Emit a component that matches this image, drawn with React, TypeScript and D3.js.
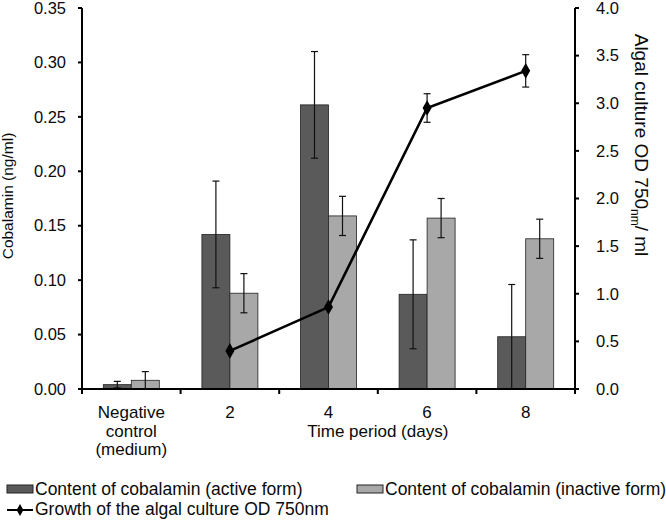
import React from "react";
import * as d3 from "d3";

const categories = ["neg", "2", "4", "6", "8"];
const activeForm = [0.004, 0.142, 0.261, 0.087, 0.048];
const activeErr = [0.003, 0.049, 0.049, 0.05, 0.048];
const inactiveForm = [0.008, 0.088, 0.159, 0.157, 0.138];
const inactiveErr = [0.008, 0.018, 0.018, 0.018, 0.018];
// algal growth is not measured for the negative control
const growthDays = ["2", "4", "6", "8"];
const growthOD = [0.4, 0.86, 2.95, 3.34];
const growthErr = [0, 0, 0.15, 0.17];
const leftTicks = [0, 0.05, 0.1, 0.15, 0.2, 0.25, 0.3, 0.35];
const rightTicks = [0, 0.5, 1, 1.5, 2, 2.5, 3, 3.5, 4];

const W = 666;
const H = 521;
const marginLeft = 82;
const marginRight = 91; // right axis at 575
const marginTop = 8;
const baseY = 389;
const font = "Arial, 'Liberation Sans', sans-serif";
const darkFill = "#5a5a5a";
const lightFill = "#a8a8a8";
const ink = "#0a0a0a";

export default function App() {
  const x = d3
    .scaleBand<string>()
    .domain(categories)
    .range([marginLeft, W - marginRight])
    .paddingInner(0);
  const yL = d3.scaleLinear().domain([0, 0.35]).range([baseY, marginTop]);
  const yR = d3.scaleLinear().domain([0, 4]).range([baseY, marginTop]);
  const barW = 28;
  const cx = (c: string) => (x(c) ?? 0) + x.bandwidth() / 2;

  const line = d3
    .line<number>()
    .x((_, i) => cx(growthDays[i]))
    .y((d) => yR(d));

  const diamond = d3.symbol(d3.symbolDiamond, 70)();

  const errBar = (px: number, top: number, bottom: number, key: string, sw = 1.2) => (
    <g key={key} stroke="#111" strokeWidth={sw}>
      <line x1={px} x2={px} y1={top} y2={bottom} />
      <line x1={px - 3.5} x2={px + 3.5} y1={top} y2={top} />
      <line x1={px - 3.5} x2={px + 3.5} y1={bottom} y2={bottom} />
    </g>
  );

  const boundaries = categories.map((c) => x(c) ?? 0).concat([W - marginRight]);

  return (
    <div style={{ position: "absolute", left: 0, top: 0 }}>
      <svg width={W} height={H} style={{ display: "block", background: "#fff" }} fontFamily={font}>
        {/* bars */}
        {categories.map((c, i) => (
          <g key={c}>
            <rect
              x={cx(c) - barW}
              y={yL(activeForm[i])}
              width={barW}
              height={baseY - yL(activeForm[i])}
              fill={darkFill}
              stroke="#222"
              strokeWidth={0.8}
            />
            <rect
              x={cx(c)}
              y={yL(inactiveForm[i])}
              width={barW}
              height={baseY - yL(inactiveForm[i])}
              fill={lightFill}
              stroke="#222"
              strokeWidth={0.8}
            />
          </g>
        ))}
        {categories.map((c, i) =>
          errBar(cx(c) - barW / 2, yL(activeForm[i] + activeErr[i]), yL(activeForm[i] - activeErr[i]), "ea" + c)
        )}
        {categories.map((c, i) =>
          errBar(cx(c) + barW / 2, yL(inactiveForm[i] + inactiveErr[i]), yL(inactiveForm[i] - inactiveErr[i]), "ei" + c)
        )}

        {/* growth line */}
        <path d={line(growthOD) ?? ""} fill="none" stroke="#000" strokeWidth={2.6} />
        {growthDays.map((c, i) =>
          growthErr[i] > 0
            ? errBar(cx(c), yR(growthOD[i] + growthErr[i]), yR(growthOD[i] - growthErr[i]), "eg" + c)
            : null
        )}
        {growthDays.map((c, i) => (
          <path key={"m" + c} d={diamond ?? ""} transform={`translate(${cx(c)},${yR(growthOD[i])})`} fill="#000" />
        ))}

        {/* left axis */}
        <line x1={marginLeft} x2={marginLeft} y1={marginTop} y2={baseY} stroke="#000" strokeWidth={2} />
        {leftTicks.map((t) => (
          <g key={"l" + t} transform={`translate(0,${yL(t)})`}>
            <line x1={marginLeft - 4} x2={marginLeft} stroke="#000" strokeWidth={2} />
            <text x={66} dy="0.35em" textAnchor="end" fontSize={16.5} fill={ink}>
              {d3.format(".2f")(t)}
            </text>
          </g>
        ))}
        <text transform={`translate(13,196) rotate(-90)`} textAnchor="middle" fontSize={15.5} fill={ink}>
          Cobalamin (ng/ml)
        </text>

        {/* right axis */}
        <line x1={W - marginRight} x2={W - marginRight} y1={marginTop} y2={baseY} stroke="#000" strokeWidth={2} />
        {rightTicks.map((t) => (
          <g key={"r" + t} transform={`translate(0,${yR(t)})`}>
            <line x1={W - marginRight} x2={W - marginRight + 4} stroke="#000" strokeWidth={2} />
            <text x={596} dy="0.35em" textAnchor="start" fontSize={16.5} fill={ink}>
              {d3.format(".1f")(t)}
            </text>
          </g>
        ))}
        <text transform={`translate(635,145) rotate(90)`} textAnchor="middle" fontSize={19} fill={ink}>
          Algal culture OD 750
          <tspan fontSize={12} dy={4}>nm</tspan>
          <tspan dy={-4}>/ ml</tspan>
        </text>

        {/* bottom axis */}
        <line x1={marginLeft} x2={W - marginRight} y1={baseY} y2={baseY} stroke="#000" strokeWidth={2} />
        {boundaries.map((b, i) => (
          <line key={"b" + i} x1={b} x2={b} y1={baseY} y2={baseY + 5} stroke="#000" strokeWidth={2} />
        ))}
        {["Negative", "control", "(medium)"].map((s, i) => (
          <text key={s} x={cx("neg")} y={418 + i * 18.5} textAnchor="middle" fontSize={17} fill={ink}>
            {s}
          </text>
        ))}
        {growthDays.map((c) => (
          <text key={"t" + c} x={cx(c)} y={418} textAnchor="middle" fontSize={17} fill={ink}>
            {c}
          </text>
        ))}
        <text x={(cx("2") + cx("8")) / 2} y={437} textAnchor="middle" fontSize={17} fill={ink}>
          Time period (days)
        </text>

        {/* legend */}
        <rect x={7} y={485} width={26} height={8} fill={darkFill} stroke="#222" strokeWidth={1} />
        <text x={35} y={495} fontSize={17.5} fill={ink}>
          Content of cobalamin (active form)
        </text>
        <rect x={357} y={485} width={26} height={8} fill={lightFill} stroke="#222" strokeWidth={1} />
        <text x={385} y={495} fontSize={17.5} fill={ink}>
          Content of cobalamin (inactive form)
        </text>
        <line x1={7} x2={33} y1={510} y2={510} stroke="#000" strokeWidth={2} />
        <path d={d3.symbol(d3.symbolDiamond, 40)() ?? ""} transform="translate(20,510)" fill="#000" />
        <text x={35} y={515} fontSize={17.5} fill={ink}>
          Growth of the algal culture OD 750nm
        </text>
      </svg>
    </div>
  );
}
